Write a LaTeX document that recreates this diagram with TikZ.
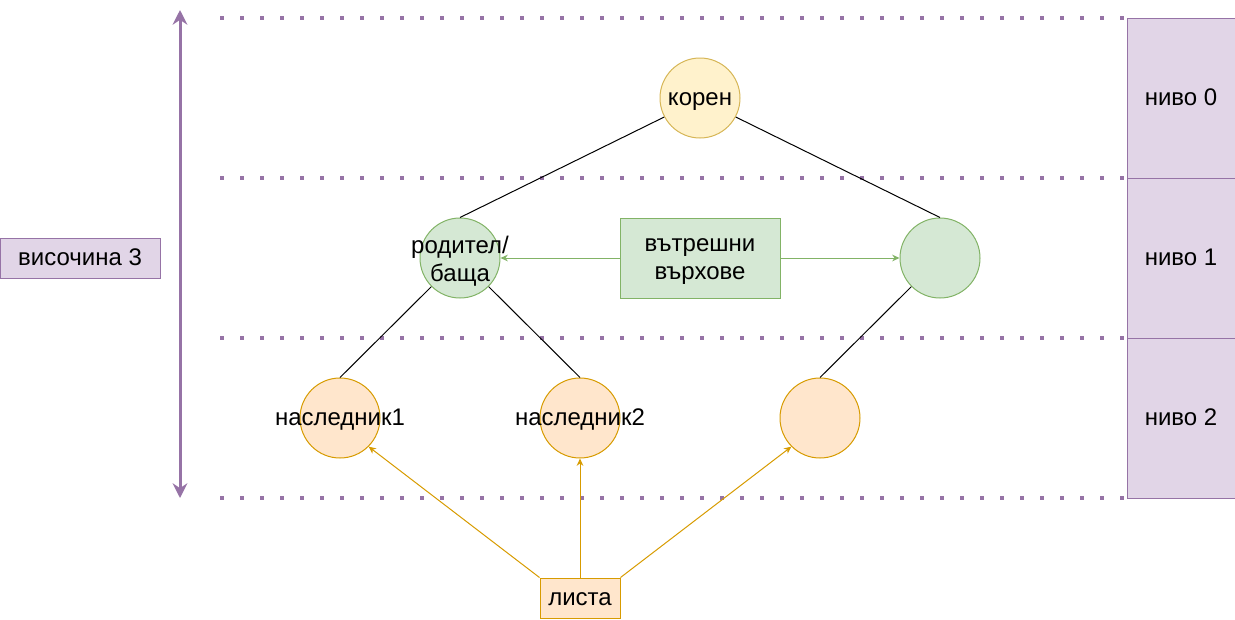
\documentclass[tikz,border=0pt]{standalone}
\usepackage{fontspec}
\setmainfont{Liberation Sans}
\usetikzlibrary{arrows.meta}
\definecolor{purpleS}{HTML}{9673A6}
\definecolor{purpleF}{HTML}{E1D5E7}
\definecolor{yellowF}{HTML}{FFF2CC}
\definecolor{yellowS}{HTML}{D6B656}
\definecolor{greenF}{HTML}{D5E8D4}
\definecolor{greenS}{HTML}{82B366}
\definecolor{orangeF}{HTML}{FFE6CC}
\definecolor{orangeS}{HTML}{D79B00}
\tikzset{
  every node/.style={font=\fontsize{18}{21}\selectfont, inner sep=0pt, align=center},
  oneline/.style={text height=13pt, text depth=2.5pt},
  twoline/.style={yshift=-2.5pt},
  vtx/.style={circle, minimum size=60pt, line width=0.75pt},
  rootv/.style={vtx, fill=yellowF, draw=yellowS},
  innerv/.style={vtx, fill=greenF, draw=greenS},
  leafv/.style={vtx, fill=orangeF, draw=orangeS},
  levelbox/.style={rectangle, oneline, fill=purpleF, draw=purpleS, line width=0.75pt, minimum width=81pt, minimum height=120pt},
  levelline/.style={draw=purpleS, line width=3pt, dash pattern=on 3pt off 12pt},
  edge/.style={draw=black, line width=0.75pt},
  garrow/.style={draw=greenS, line width=0.75pt, -{Stealth[length=5.5pt,width=5pt]}},
  oarrow/.style={draw=orangeS, line width=0.75pt, -{Stealth[length=5.5pt,width=5pt]}},
}
\begin{document}
\begin{tikzpicture}[x=0.75pt, y=-0.75pt]
\useasboundingbox (0,0) rectangle (1235,619);
% level lines
\coordinate (l0a) at (220,18); \coordinate (l0b) at (1127,18);
\coordinate (l1a) at (220,178); \coordinate (l1b) at (1127,178);
\coordinate (l2a) at (220,338); \coordinate (l2b) at (1127,338);
\coordinate (l3a) at (220,498); \coordinate (l3b) at (1127,498);
\draw[levelline] (l0a) -- (l0b);
\draw[levelline] (l1a) -- (l1b);
\draw[levelline] (l2a) -- (l2b);
\draw[levelline] (l3a) -- (l3b);
% level boxes
\node[levelbox] (n0) at (1181,98) {ниво 0};
\node[levelbox] (n1) at (1181,258) {ниво 1};
\node[levelbox] (n2) at (1181,418) {ниво 2};
% height
\node[rectangle, oneline, fill=purpleF, draw=purpleS, line width=0.75pt, minimum width=120pt, minimum height=30pt] (h) at (80,258) {височина 3};
\coordinate (ht) at (180,10);
\coordinate (hb) at (180,498);
\draw[draw=purpleS, line width=2.25pt, {Stealth[length=11pt,width=11pt]}-{Stealth[length=11pt,width=11pt]}] (ht) -- (hb);
% vertices
\node[rootv] (root) at (700,98) {};
\node[innerv] (par) at (460,258) {};
\node[innerv] (rgt) at (940,258) {};
\node[leafv] (c1) at (340,418) {};
\node[leafv] (c2) at (580,418) {};
\node[leafv] (c3) at (820,418) {};
\node[oneline] (roott) at (root.center) {корен};
\node[twoline] (part) at (par.center) {родител/\\баща};
\node[oneline] (c1t) at (c1.center) {наследник1};
\node[oneline] (c2t) at (c2.center) {наследник2};
% edges
\draw[edge] (root.208) -- (par.north);
\draw[edge] (root.332) -- (rgt.north);
\draw[edge] (par.south west) -- (c1.north);
\draw[edge] (par.south east) -- (c2.north);
\draw[edge] (rgt.south west) -- (c3.north);
% internal label
\node[rectangle, fill=greenF, draw=greenS, line width=0.75pt, minimum width=120pt, minimum height=60pt] (int) at (700,258) {};
\node[twoline] (intt) at (int.center) {вътрешни\\върхове};
\draw[garrow] (int.west) -- (par.east);
\draw[garrow] (int.east) -- (rgt.west);
% leaves label
\node[rectangle, oneline, fill=orangeF, draw=orangeS, line width=0.75pt, minimum width=60pt, minimum height=30pt] (lv) at (580,598) {листа};
\draw[oarrow] (lv.north west) -- (c1.south east);
\draw[oarrow] (lv.north) -- (c2.south);
\draw[oarrow] (lv.north east) -- (c3.south west);
\end{tikzpicture}
\end{document}
